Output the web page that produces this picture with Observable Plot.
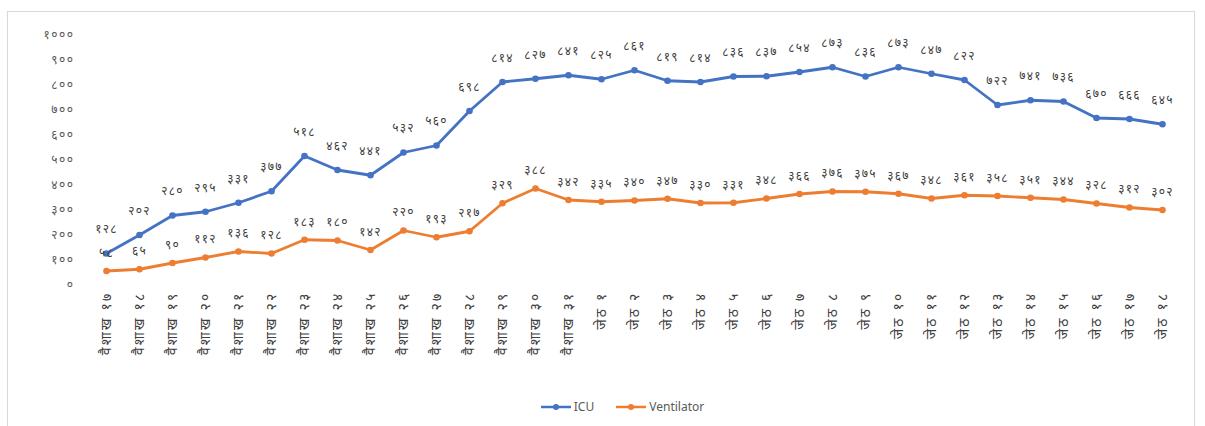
<!DOCTYPE html>
<html>
<head>
<meta charset="utf-8">
<script src="https://cdn.jsdelivr.net/npm/d3@7"></script>
<script src="https://cdn.jsdelivr.net/npm/@observablehq/plot@0.6"></script>
<style>
  html, body { margin: 0; padding: 0; background: #fff; }
  body { width: 1205px; height: 426px; overflow: hidden; position: relative; font-family: "Noto Sans", "DejaVu Sans", sans-serif; }
  #frame { position: absolute; left: 7px; top: 11px; width: 1188px; height: 430px; border: 1px solid #d9d9d9; box-sizing: border-box; }
  #chart { position: absolute; left: 0; top: 0; }
  #legend { position: absolute; left: 0; width: 1205px; top: 398px; display: flex; justify-content: center; gap: 22px; font-size: 12px; color: #595959; padding-left: 40px; box-sizing: border-box; }
  .item { display: flex; align-items: center; gap: 3px; }
  g[aria-label="x-axis tick label"] text { letter-spacing: 2.2px; }
  g[aria-label="y-axis tick label"] text { letter-spacing: 1.5px; }
  g[aria-label="text"] text { letter-spacing: 1.2px; }
</style>
</head>
<body>
<div id="frame"></div>
<div id="chart"></div>
<div id="legend"></div>
<script>
const dates = [
  "वैशाख १७","वैशाख १८","वैशाख १९","वैशाख २०","वैशाख २१","वैशाख २२","वैशाख २३","वैशाख २४",
  "वैशाख २५","वैशाख २६","वैशाख २७","वैशाख २८","वैशाख २९","वैशाख ३०","वैशाख ३१",
  "जेठ १","जेठ २","जेठ ३","जेठ ४","जेठ ५","जेठ ६","जेठ ७","जेठ ८","जेठ ९","जेठ १०",
  "जेठ ११","जेठ १२","जेठ १३","जेठ १४","जेठ १५","जेठ १६","जेठ १७","जेठ १८"
];
const icu = [128, 202, 280, 295, 331, 377, 518, 462, 441, 532, 560, 698, 814, 827, 841,
  825, 861, 819, 814, 836, 837, 854, 873, 836, 873, 847, 822, 722, 741, 736, 670, 666, 645];
const ventilator = [58, 65, 90, 112, 136, 128, 183, 180, 142, 220, 193, 217, 329, 388, 342,
  335, 340, 347, 330, 331, 348, 366, 376, 375, 367, 348, 361, 358, 351, 344, 328, 312, 302];
const yTicks = [0, 100, 200, 300, 400, 500, 600, 700, 800, 900, 1000];
const seriesNames = ["ICU", "Ventilator"];
const seriesColors = ["#4472C4", "#ED7D31"];

const neDigits = "०१२३४५६७८९";
const toNe = n => String(n).replace(/[0-9]/g, d => neDigits[+d]);

const rows = [];
dates.forEach((d, i) => {
  rows.push({date: d, value: icu[i], series: "ICU"});
  rows.push({date: d, value: ventilator[i], series: "Ventilator"});
});
const icuRows = rows.filter(r => r.series === "ICU");
const ventRows = rows.filter(r => r.series === "Ventilator");

const devFont = "'Noto Sans Devanagari', 'Lohit Devanagari', 'Noto Sans', sans-serif";

const chart = Plot.plot({
  width: 1205,
  height: 390,
  marginLeft: 83,
  marginRight: 20,
  marginTop: 35,
  marginBottom: 105,
  style: {fontFamily: devFont, fontSize: "11px", color: "#595959", background: "transparent"},
  x: {type: "point", domain: dates, padding: 0.5, label: null},
  y: {domain: [0, 1000], label: null},
  color: {domain: seriesNames, range: seriesColors},
  marks: [
    Plot.gridY(yTicks, {stroke: "#d9d9d9", strokeOpacity: 1, strokeWidth: 1, x1: 85, x2: 1185}),
    Plot.axisY({ticks: yTicks, tickFormat: toNe, tickSize: 0, tickPadding: 9, fill: "#595959", fontSize: 12}),
    Plot.axisX({tickSize: 0, tickPadding: 6, tickRotate: -90, fill: "#404040", fontSize: 14}),
    Plot.line(rows, {x: "date", y: "value", z: "series", stroke: "series", strokeWidth: 2.8}),
    Plot.dot(rows, {x: "date", y: "value", fill: "series", r: 3.3}),
    Plot.text(icuRows, {x: "date", y: "value", text: d => toNe(d.value), dy: -24, fill: "#404040", fontSize: 12}),
    Plot.text(ventRows, {x: "date", y: "value", text: d => toNe(d.value), dy: -18, fill: "#404040", fontSize: 12})
  ]
});
document.getElementById("chart").appendChild(chart);

const legend = document.getElementById("legend");
seriesNames.forEach((name, i) => {
  const item = document.createElement("div");
  item.className = "item";
  item.innerHTML = `<svg width="30" height="10"><line x1="0" y1="5" x2="30" y2="5" stroke="${seriesColors[i]}" stroke-width="2.5"/><circle cx="15" cy="5" r="3" fill="${seriesColors[i]}"/></svg><span>${name}</span>`;
  legend.appendChild(item);
});
</script>
</body>
</html>
